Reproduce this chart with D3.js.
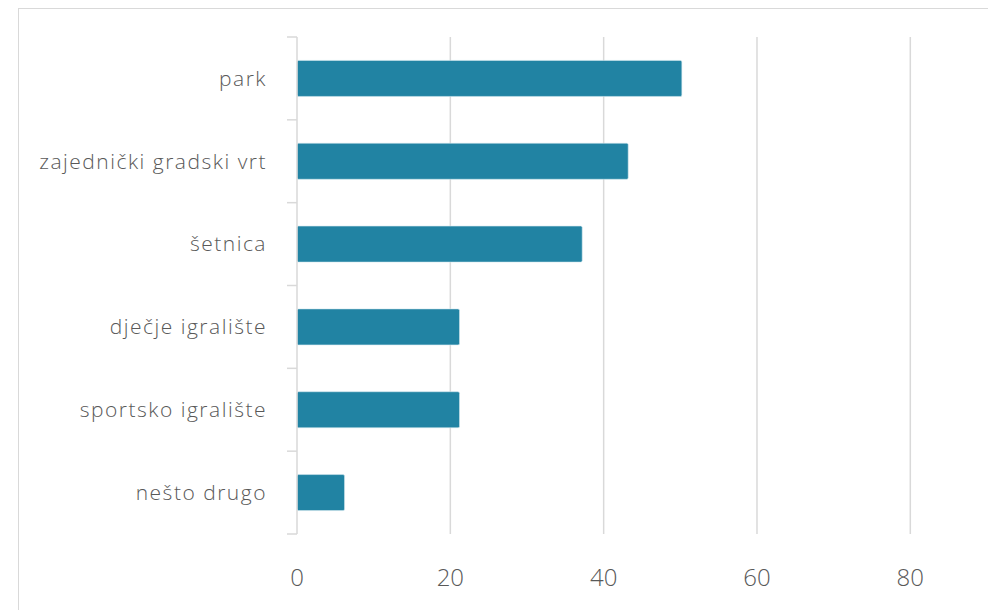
<!DOCTYPE html>
<html>
<head>
<meta charset="utf-8">
<script src="https://cdn.jsdelivr.net/npm/d3@7"></script>
<style>
  body { margin: 0; background: #fff; }
  svg { display: block; }
</style>
</head>
<body>
<div id="chart"></div>
<script>
'use strict';

var categories = ['park', 'zajednički gradski vrt', 'šetnica', 'dječje igralište', 'sportsko igralište', 'nešto drugo'];
var values = [50.2, 43.2, 37.2, 21.2, 21.2, 6.2];
var xTicks = [0, 20, 40, 60, 80];

var width = 988, height = 610;
var plotLeft = 297, plotTop = 37, plotBottom = 534;

var svg = d3.select('#chart').append('svg')
    .attr('width', width)
    .attr('height', height);

// chart area frame
svg.append('rect')
    .attr('x', 18.5).attr('y', 8.5)
    .attr('width', 1000).attr('height', 700)
    .attr('fill', '#fff')
    .attr('stroke', '#d9d9d9')
    .attr('stroke-width', 1);

var x = d3.scaleLinear().domain([0, 80]).range([plotLeft, plotLeft + 80 * 7.6665]);
var y = d3.scaleBand().domain(categories).range([plotTop, plotBottom]).paddingInner(0.565).paddingOuter(0.2825);

// gridlines
svg.selectAll('line.grid')
    .data(xTicks.slice(1)).enter().append('line')
    .attr('class', 'grid')
    .attr('x1', function (d) { return x(d); })
    .attr('x2', function (d) { return x(d); })
    .attr('y1', plotTop).attr('y2', plotBottom)
    .attr('stroke', '#d9d9d9')
    .attr('stroke-width', 1.5);

// bars
svg.selectAll('rect.bar')
    .data(values).enter().append('rect')
    .attr('class', 'bar')
    .attr('x', x(0))
    .attr('y', function (d, i) { return y(categories[i]); })
    .attr('width', function (d) { return x(d) - x(0); })
    .attr('height', y.bandwidth())
    .attr('rx', 1.5)
    .attr('fill', '#2183a3')
    .attr('stroke', '#d4e8ef')
    .attr('stroke-width', 0.6);

// y axis line and ticks
var bounds = d3.range(categories.length + 1).map(function (i) {
    return plotTop + i * (plotBottom - plotTop) / categories.length;
});
svg.append('line')
    .attr('x1', plotLeft).attr('x2', plotLeft)
    .attr('y1', plotTop).attr('y2', plotBottom)
    .attr('stroke', '#d9d9d9')
    .attr('stroke-width', 1.5);
svg.selectAll('line.ytick')
    .data(bounds).enter().append('line')
    .attr('class', 'ytick')
    .attr('x1', plotLeft - 10).attr('x2', plotLeft)
    .attr('y1', function (d) { return d; })
    .attr('y2', function (d) { return d; })
    .attr('stroke', '#d9d9d9')
    .attr('stroke-width', 1.5);

// category labels
svg.selectAll('text.cat')
    .data(categories).enter().append('text')
    .attr('class', 'cat')
    .attr('x', 267)
    .attr('y', function (d) { return y(d) + y.bandwidth() / 2; })
    .attr('dy', '0.35em')
    .attr('text-anchor', 'end')
    .attr('font-family', '"Open Sans", sans-serif')
    .attr('font-weight', 300)
    .attr('font-size', '21px')
    .attr('letter-spacing', '1.5px')
    .attr('fill', '#595959')
    .text(function (d) { return d; });

// x tick labels
svg.selectAll('text.xt')
    .data(xTicks).enter().append('text')
    .attr('class', 'xt')
    .attr('x', function (d) { return x(d); })
    .attr('y', 586)
    .attr('text-anchor', 'middle')
    .attr('font-family', '"Open Sans", sans-serif')
    .attr('font-weight', 300)
    .attr('font-size', '24px')
    .attr('fill', '#595959')
    .text(function (d) { return d; });
</script>
</body>
</html>
